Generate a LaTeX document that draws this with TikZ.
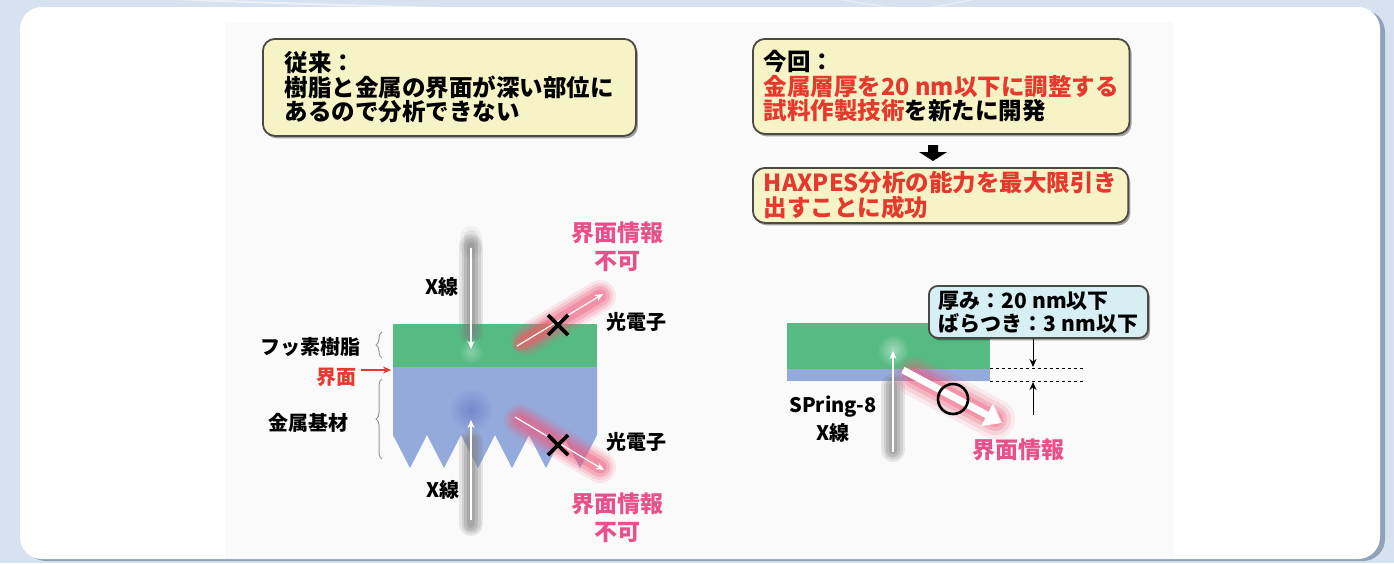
\documentclass[tikz,border=0pt]{standalone}
\usepackage{fontspec}
\setmainfont{Noto Sans CJK JP}
\usetikzlibrary{shadows,decorations.pathreplacing,arrows.meta}

\definecolor{bgblue}{HTML}{D6E2EF}
\definecolor{cardshadow}{HTML}{8FA2B8}
\definecolor{panelgray}{HTML}{FAFAFA}
\definecolor{boxyellow}{HTML}{F6F3C6}
\definecolor{boxcyan}{HTML}{D6EEF4}
\definecolor{boxedge}{HTML}{4A4A44}
\definecolor{txtred}{HTML}{E5392E}
\definecolor{txtpink}{HTML}{E8508C}
\definecolor{resin}{HTML}{55BB82}
\definecolor{metal}{HTML}{94AADB}
\definecolor{glowpink}{HTML}{F05A7A}
\definecolor{beamgray}{HTML}{7C7C7C}

\tikzset{
  notebox/.style={draw=boxedge, line width=1.8pt, rounded corners=12pt,
    fill=boxyellow, anchor=north west, align=left, inner xsep=11pt, inner ysep=0pt,
    drop shadow={shadow xshift=2pt, shadow yshift=-2.5pt, fill=black, opacity=.35},
    font=\bfseries\fontsize{23.5}{24.5}\selectfont},
  specbox/.style={notebox, fill=boxcyan, rounded corners=9pt, inner xsep=10pt,
    font=\bfseries\fontsize{21}{23}\selectfont},
  lbl/.style={font=\bfseries\fontsize{20}{22}\selectfont, inner sep=0pt},
  pinklbl/.style={font=\bfseries\fontsize{23}{28}\selectfont, text=txtpink, align=center, inner sep=0pt},
  brace/.style={draw=gray!80, line width=1pt, decorate,
    decoration={brace, amplitude=6pt}},
  crossmark/.style={line width=3.6pt, black},
  thinarrow/.style={line width=1.2pt, -{Stealth[length=8pt,width=7pt]}},
  beam/.style={beamgray, line cap=round},
  glow/.style={glowpink, line cap=round},
}

\begin{document}
\begin{tikzpicture}[x=1pt,y=-1pt]
\useasboundingbox (0,0) rectangle (1394,563);

% page background and faint decorative arcs
\fill[bgblue] (0,0) rectangle (1394,563);
\draw[white, opacity=.55, line width=2pt] (150,-2) .. controls (260,3) and (380,6) .. (470,9);
\draw[white, opacity=.4, line width=1.5pt] (830,-2) .. controls (860,3) and (880,6) .. (900,9);
\draw[white, opacity=.4, line width=1.5pt] (980,-2) .. controls (955,3) and (940,6) .. (925,9);

% white card with its shadow
\fill[cardshadow, rounded corners=22pt] (24,10) rectangle (1385,561);
\fill[white, rounded corners=22pt] (20,7) rectangle (1380,559);
\fill[panelgray] (225,22) rectangle (1173,559);

% ---------- text boxes ----------
\node[notebox, minimum width=373pt, minimum height=97pt] (past) at (262,38)
  {従来：\\樹脂と金属の界面が深い部位に\\あるので分析できない};

\node[notebox, minimum width=373pt, minimum height=95pt] (now) at (752,38)
  {今回：\\{\color{txtred}金属層厚を20 nm以下に調整する}\\{\color{txtred}試料作製技術}を新たに開発};

\node[notebox, minimum width=373pt, minimum height=55pt] (result) at (752,167)
  {\color{txtred}HAXPES分析の能力を最大限引き\\\color{txtred}出すことに成功};

% block arrow between the two boxes
\fill[black] (928,145) -- (938,145) -- (938,152) -- (947,152) -- (933,161)
  -- (919,152) -- (928,152) -- cycle;

% ---------- left sample: resin on metal ----------
\fill[metal] (393,367) -- (597,367) -- (597,435) -- (580,468) -- (563,435)
  -- (546,468) -- (529,435) -- (512,468) -- (495,435) -- (478,468) -- (461,435)
  -- (444,468) -- (427,435) -- (410,468) -- (393,435) -- cycle;
\fill[resin] (393,324) rectangle (597,367);

% incoming X-ray from the top
\coordinate (xa1) at (471,248);
\coordinate (xa2) at (471,349);
\foreach \w/\o in {24/0.16,19/0.2,14/0.26,8/0.3}
  \draw[beam, line width=\w pt, opacity=\o] (471,246) -- (471,332);
\foreach \w/\o in {22/0.08,14/0.12}
  \draw[beam, line width=\w pt, opacity=\o] (471,237) -- (471,248);
\shade[inner color=white!30!resin, outer color=resin] (471,352) circle (12);
\draw[white, thinarrow, line width=1.5pt] (xa1) -- (xa2);

% incoming X-ray from the bottom
\coordinate (xb1) at (471,520);
\coordinate (xb2) at (471,420);
\shade[inner color=metal!75!blue!85!black, outer color=metal, opacity=.55] (471,410) circle (22);
\foreach \w/\o in {24/0.16,19/0.2,14/0.26,8/0.3}
  \draw[beam, line width=\w pt, opacity=\o] (471,524) -- (471,442);
\draw[white, thinarrow, line width=1.5pt] (xb1) -- (xb2);

% photoelectron escaping to the top (blocked)
\coordinate (pa1) at (517,346);
\coordinate (pa2) at (603,294);
\foreach \w/\o in {32/0.12,26/0.18,20/0.26,13/0.34}
  \draw[glow, line width=\w pt, opacity=\o] (527,340) -- (600,296);
\foreach \w/\o in {15/0.35,10/0.4}
  \draw[glowpink!60!brown, line width=\w pt, opacity=\o, line cap=round] (520,344) -- (548,327);
\draw[white, thinarrow] (pa1) -- (pa2);

% photoelectron escaping to the bottom (blocked)
\coordinate (pb1) at (515,417);
\coordinate (pb2) at (604,470);
\foreach \w/\o in {32/0.12,26/0.18,20/0.26,13/0.34}
  \draw[glow, line width=\w pt, opacity=\o] (520,420) -- (600,467);
\draw[white, thinarrow] (pb1) -- (pb2);

% blocked marks
\draw[crossmark] (548,315) -- (568,335) (548,335) -- (568,315);
\draw[crossmark] (548,435) -- (568,455) (548,455) -- (568,435);

% labels of the left sample
\node[lbl] (xl1) at (442,287) {X線};
\node[lbl] (xl2) at (443,490) {X線};
\node[lbl] (pe1) at (636,322) {光電子};
\node[lbl] (pe2) at (636,442) {光電子};
\node[pinklbl] (ni1) at (617,247) {界面情報\\不可};
\node[pinklbl] (ni2) at (617,518) {界面情報\\不可};

\node[lbl, anchor=east] (resinlbl) at (361,347) {フッ素樹脂};
\node[lbl, anchor=east] (metallbl) at (349,423) {金属基材};
\node[lbl, anchor=east, text=txtred] (ifacelbl) at (357,377) {界面};
\coordinate (ifacept) at (391,370);
\draw[txtred, line width=1.6pt, -{Stealth[length=8pt,width=7pt]}] (ifacelbl.east |- ifacept) ++(4,0) -- (ifacept);

\draw[brace] (382,358) -- (382,332);
\draw[brace] (382,459) -- (382,379);

% ---------- right sample: thin metal film ----------
\fill[resin] (787,323) rectangle (990,369);
\fill[metal] (787,369) rectangle (990,381);
\shade[inner color=white!45!resin, outer color=resin] (893,350) circle (16);

% X-ray from SPring-8
\coordinate (xc1) at (893,452);
\coordinate (xc2) at (893,351);
\foreach \w/\o in {24/0.16,19/0.2,14/0.26,8/0.3}
  \draw[beam, line width=\w pt, opacity=\o] (893,450) -- (893,386);
\draw[white, thinarrow, line width=1.5pt] (xc1) -- (xc2);

% photoelectron carrying interface information
\coordinate (pc1) at (903,370);
\coordinate (pc2) at (1002,423);
\foreach \w/\o in {40/0.1,32/0.16,24/0.24,16/0.34}
  \draw[glow, line width=\w pt, opacity=\o] (914,376) -- (995,419);
\draw[white, line width=7pt, -{Triangle[length=17pt,width=24pt]}] (pc1) -- (pc2);
\draw[black, line width=2.6pt] (953,399) circle (15);

\node[lbl] (sp8) at (833,407) {SPring-8};
\node[lbl] (xl3) at (833,433) {X線};
\node[pinklbl] (ok) at (1018,450) {界面情報};

% thickness specification
\node[specbox, minimum width=219pt, minimum height=52pt] (spec) at (928,285)
  {厚み：20 nm以下\\ばらつき：3 nm以下};

\draw[dashed, line width=1pt] (990,368) -- (1084,368);
\draw[dashed, line width=1pt] (990,381) -- (1084,381);
\coordinate (dt) at (1033,367);
\coordinate (db) at (1033,382);
\coordinate (dlow) at (1033,415);
\draw[thinarrow, line width=1pt] (spec.south -| dt) -- (dt);
\draw[thinarrow, line width=1pt] (dlow) -- (db);

\end{tikzpicture}
\end{document}
